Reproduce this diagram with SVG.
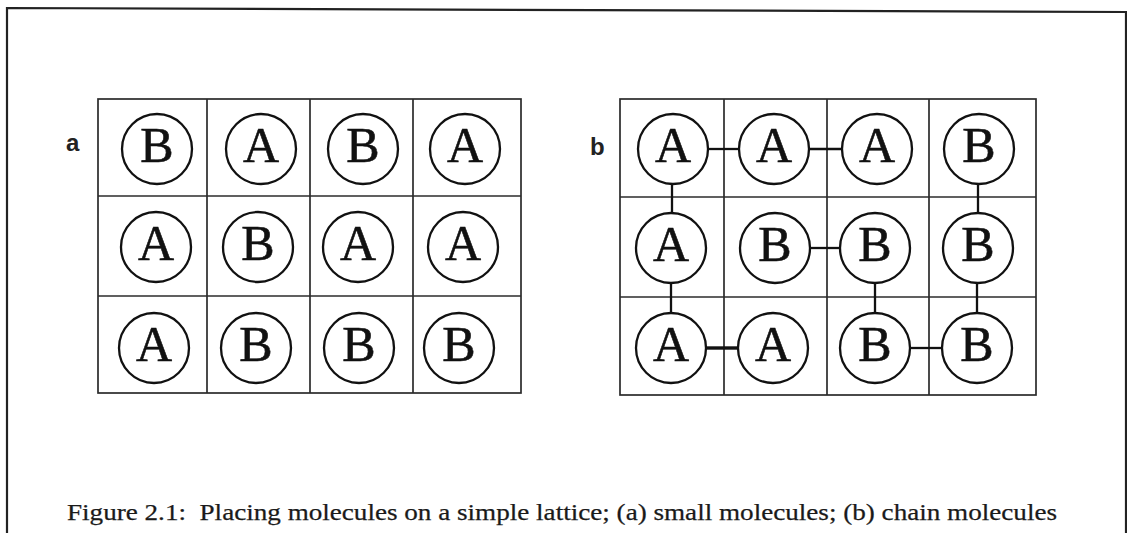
<svg xmlns="http://www.w3.org/2000/svg" width="1127" height="533" viewBox="0 0 1127 533">
  <style>
    .frame { fill: none; stroke: #222; stroke-width: 2.2; }
    .grid { fill: none; stroke: #2b2b2b; stroke-width: 1.7; }
    .mol circle { fill: #fff; stroke: #111; stroke-width: 2.3; }
    .mol text { font-family: "Liberation Serif", "Times New Roman", serif; font-size: 50px; fill: #111; stroke: #111; stroke-width: 0.6; text-anchor: middle; }
    .bond { stroke: #111; stroke-width: 2.3; fill: none; }
    .bond.thick { stroke-width: 3.4; }
    .tag { font-family: "Liberation Sans", Arial, sans-serif; font-size: 24px; font-weight: bold; fill: #222; }
    .caption { font-family: "Liberation Serif", "Times New Roman", serif; font-size: 24px; fill: #1a1a1a; stroke: #1a1a1a; stroke-width: 0.25; white-space: pre; }
  </style>

  <rect width="1127" height="533" fill="#fff"/>

  <!-- outer frame -->
  <polyline class="frame" points="7,533 7,8 1126,12 1126,533"/>

  <!-- panel labels -->
  <text id="label-a" class="tag" x="66" y="151">a</text>
  <text id="label-b" class="tag" x="590" y="155">b</text>

  <!-- lattice a -->
  <g id="lattice-a" class="grid">
    <rect x="98" y="99" width="423" height="294"/>
    <line x1="207" y1="99" x2="207" y2="393"/>
    <line x1="310" y1="99" x2="310" y2="393"/>
    <line x1="413" y1="99" x2="413" y2="393"/>
    <line x1="98" y1="196" x2="521" y2="196"/>
    <line x1="98" y1="296" x2="521" y2="296"/>
  </g>

  <!-- lattice b -->
  <g id="lattice-b" class="grid">
    <rect x="620" y="99" width="416" height="296"/>
    <line x1="724" y1="99" x2="724" y2="395"/>
    <line x1="827" y1="99" x2="827" y2="395"/>
    <line x1="929" y1="99" x2="929" y2="395"/>
    <line x1="620" y1="197" x2="1036" y2="197"/>
    <line x1="620" y1="297" x2="1036" y2="297"/>
  </g>

  <!-- bonds joining the chain molecules in lattice b -->
  <g id="connectors">
    <line class="bond" x1="708" y1="149" x2="739" y2="149"/>
    <line class="bond" x1="809" y1="149" x2="842" y2="149"/>
    <line class="bond" x1="672" y1="184" x2="672" y2="213"/>
    <line class="bond" x1="671" y1="283" x2="671" y2="313"/>
    <line class="bond thick" x1="706" y1="348" x2="738" y2="348"/>
    <line class="bond" x1="810" y1="248" x2="840" y2="248"/>
    <line class="bond" x1="875" y1="283" x2="875" y2="313"/>
    <line class="bond" x1="978" y1="184" x2="978" y2="213"/>
    <line class="bond" x1="977" y1="283" x2="977" y2="313"/>
    <line class="bond" x1="910" y1="348" x2="942" y2="348"/>
  </g>

  <!-- lattice a molecules -->
  <g id="a-r1c1" class="mol"><circle cx="157" cy="149" r="35"/><text x="157" y="162">B</text></g>
  <g id="a-r1c2" class="mol"><circle cx="261" cy="149" r="35"/><text x="261" y="162">A</text></g>
  <g id="a-r1c3" class="mol"><circle cx="363" cy="149" r="35"/><text x="363" y="162">B</text></g>
  <g id="a-r1c4" class="mol"><circle cx="465" cy="149" r="35"/><text x="465" y="162">A</text></g>
  <g id="a-r2c1" class="mol"><circle cx="156" cy="247" r="35"/><text x="156" y="260">A</text></g>
  <g id="a-r2c2" class="mol"><circle cx="258" cy="247" r="35"/><text x="258" y="260">B</text></g>
  <g id="a-r2c3" class="mol"><circle cx="358" cy="247" r="35"/><text x="358" y="260">A</text></g>
  <g id="a-r2c4" class="mol"><circle cx="463" cy="247" r="35"/><text x="463" y="260">A</text></g>
  <g id="a-r3c1" class="mol"><circle cx="154" cy="348" r="35"/><text x="154" y="361">A</text></g>
  <g id="a-r3c2" class="mol"><circle cx="256" cy="348" r="35"/><text x="256" y="361">B</text></g>
  <g id="a-r3c3" class="mol"><circle cx="359" cy="348" r="35"/><text x="359" y="361">B</text></g>
  <g id="a-r3c4" class="mol"><circle cx="459" cy="348" r="35"/><text x="459" y="361">B</text></g>

  <!-- lattice b molecules -->
  <g id="b-r1c1" class="mol"><circle cx="673" cy="149" r="35"/><text x="673" y="162">A</text></g>
  <g id="b-r1c2" class="mol"><circle cx="774" cy="149" r="35"/><text x="774" y="162">A</text></g>
  <g id="b-r1c3" class="mol"><circle cx="877" cy="149" r="35"/><text x="877" y="162">A</text></g>
  <g id="b-r1c4" class="mol"><circle cx="979" cy="149" r="35"/><text x="979" y="162">B</text></g>
  <g id="b-r2c1" class="mol"><circle cx="671" cy="248" r="35"/><text x="671" y="261">A</text></g>
  <g id="b-r2c2" class="mol"><circle cx="775" cy="248" r="35"/><text x="775" y="261">B</text></g>
  <g id="b-r2c3" class="mol"><circle cx="875" cy="248" r="35"/><text x="875" y="261">B</text></g>
  <g id="b-r2c4" class="mol"><circle cx="978" cy="248" r="35"/><text x="978" y="261">B</text></g>
  <g id="b-r3c1" class="mol"><circle cx="671" cy="348" r="35"/><text x="671" y="361">A</text></g>
  <g id="b-r3c2" class="mol"><circle cx="773" cy="348" r="35"/><text x="773" y="361">A</text></g>
  <g id="b-r3c3" class="mol"><circle cx="875" cy="348" r="35"/><text x="875" y="361">B</text></g>
  <g id="b-r3c4" class="mol"><circle cx="977" cy="348" r="35"/><text x="977" y="361">B</text></g>

  <!-- caption -->
  <text id="caption" class="caption" x="67" y="520" textLength="990" lengthAdjust="spacingAndGlyphs">Figure 2.1:  Placing molecules on a simple lattice; (a) small molecules; (b) chain molecules</text>
</svg>
